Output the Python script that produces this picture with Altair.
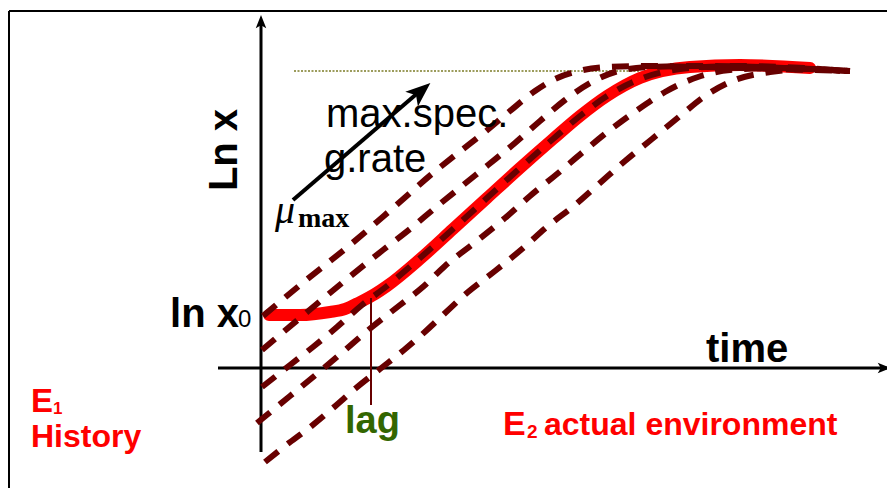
import altair as alt
import pandas as pd

# ---- data (time t, ln x value v; origin at the axes crossing) ----
red_t = [8, 39, 69, 84, 99, 114, 126, 159, 192, 226, 259, 292, 319, 346, 379, 429, 479, 549]
red_v = [53, 53, 56, 59, 66, 74, 82, 109, 139, 170, 200, 229, 252, 272, 290, 301, 303, 300]

l1_t = [2, 44, 89, 132, 172, 197, 224, 249, 274, 294, 314, 347, 389, 439, 589]
l1_v = [52, 87, 123, 160, 195, 215, 236, 257, 277, 289, 296, 301, 302, 301, 297]

l2_t = [1, 39, 81, 122, 149, 174, 201, 227, 254, 279, 304, 329, 354, 389, 439, 589]
l2_v = [18, 50, 85, 118, 139, 160, 182, 203, 225, 247, 268, 285, 296, 301, 302, 297]

l3_t = [1, 29, 52, 76, 101, 126, 159, 192, 226, 259, 292, 319, 346, 379, 429, 479, 589]
l3_v = [-19, 3, 21, 41, 63, 82, 110, 139, 170, 200, 229, 252, 272, 289, 300, 302, 297]

l4_t = [-4, 29, 57, 83, 111, 139, 163, 184, 217, 244, 269, 296, 322, 349, 375, 404, 437, 469, 519, 589]
l4_v = [-55, -28, -5, 17, 41, 63, 82, 102, 128, 150, 172, 194, 216, 238, 257, 276, 291, 298, 300, 297]

l5_t = [4, 24, 48, 72, 95, 119, 143, 166, 182, 207, 234, 261, 287, 314, 339, 364, 391, 419, 444, 474, 509, 549, 589]
l5_v = [-94, -78, -60, -40, -20, -1, 18, 38, 53, 76, 97, 119, 142, 163, 185, 207, 229, 252, 272, 288, 296, 299, 296]

plateau_t = [33, 379]
plateau_v = [297, 297]

lag_t = [110]
lag_v = [70]
lag_v2 = [-37]

mu_arrow_t = [32, 159]
mu_arrow_v = [168, 277]

# ---- text ----
txt_lnx = "Ln x"
txt_lnx0 = "ln x"
txt_sub0 = "0"
txt_time = "time"
txt_spec = ["max.spec.", "g.rate"]
txt_mu = "μ"
txt_mu_sub = "max"
txt_e1 = "E"
txt_e1_sub = "1"
txt_history = "History"
txt_e2 = "E"
txt_e2_sub = "2"
txt_env = "actual environment"
txt_lag = "lag"

XS = alt.Scale(domain=[-261, 626], nice=False, zero=False)
YS = alt.Scale(domain=[-120, 368], nice=False, zero=False)


def X(f="t"):
    return alt.X(f"{f}:Q", scale=XS, axis=None)


def Y(f="v"):
    return alt.Y(f"{f}:Q", scale=YS, axis=None)


DARK = "#680000"
SANS = "Liberation Sans"
SERIF = "Liberation Serif"

layers = []

# frame
frame = pd.DataFrame({"t": [-252], "t2": [626], "v": [357], "v2": [-120]})
layers.append(alt.Chart(frame).mark_rule(color="black", strokeWidth=2).encode(x=X(), x2="t2:Q", y=Y()))
layers.append(alt.Chart(frame).mark_rule(color="black", strokeWidth=2).encode(x=X(), y=Y(), y2="v2:Q"))

# axes
yax = pd.DataFrame({"t": [0], "v": [-84], "v2": [344]})
xax = pd.DataFrame({"t": [-43], "t2": [626], "v": [0]})
layers.append(alt.Chart(yax).mark_rule(color="black", strokeWidth=3).encode(x=X(), y=Y(), y2="v2:Q"))
layers.append(alt.Chart(xax).mark_rule(color="black", strokeWidth=3).encode(x=X(), x2="t2:Q", y=Y()))

ARROW = "M0,-1L0.75,0.9L0,0.45L-0.75,0.9Z"
yhead = pd.DataFrame({"t": [0], "v": [346]})
xhead = pd.DataFrame({"t": [623], "v": [0]})
layers.append(alt.Chart(yhead).mark_point(shape=ARROW, filled=True, size=196, color="black", opacity=1, strokeWidth=0).encode(x=X(), y=Y()))
layers.append(alt.Chart(xhead).mark_point(shape=ARROW, filled=True, size=196, angle=90, color="black", opacity=1, strokeWidth=0).encode(x=X(), y=Y()))

# plateau dotted line
pl = pd.DataFrame({"t": plateau_t, "v": plateau_v})
layers.append(alt.Chart(pl).mark_line(color="#9c9c5c", strokeWidth=2, strokeDash=[2, 1.5]).encode(x=X(), y=Y()))

# red curve
red = pd.DataFrame({"t": red_t, "v": red_v})
layers.append(alt.Chart(red).mark_line(color="#ff0000", strokeWidth=12, strokeCap="round", interpolate="monotone").encode(x=X(), y=Y()))

# dashed curves
rows = []
for name, ts, vs in [("1", l1_t, l1_v), ("2", l2_t, l2_v), ("3", l3_t, l3_v), ("4", l4_t, l4_v), ("5", l5_t, l5_v)]:
    for i, (a, b) in enumerate(zip(ts, vs)):
        rows.append({"line": name, "idx": i, "t": a, "v": b})
dashed = pd.DataFrame(rows)
layers.append(alt.Chart(dashed).mark_line(color=DARK, strokeWidth=6, strokeDash=[17, 12], interpolate="monotone").encode(
    x=X(), y=Y(), detail="line:N", order="idx:Q"))

# lag line
lag = pd.DataFrame({"t": lag_t, "v": lag_v, "v2": lag_v2})
layers.append(alt.Chart(lag).mark_rule(color=DARK, strokeWidth=2).encode(x=X(), y=Y(), y2="v2:Q"))

# mu arrow
mua = pd.DataFrame({"t": mu_arrow_t, "v": mu_arrow_v})
layers.append(alt.Chart(mua).mark_line(color="black", strokeWidth=4).encode(x=X(), y=Y()))
muh = pd.DataFrame({"t": [159.5], "v": [276.5]})
layers.append(alt.Chart(muh).mark_point(shape=ARROW, filled=True, size=676, angle=49.5, color="black", opacity=1, strokeWidth=0).encode(x=X(), y=Y()))


def label(text, t, v, size, color="black", weight="bold", font=SANS, style="normal", align="left", angle=0):
    df = pd.DataFrame({"t": [t], "v": [v], "s": [text]})
    return alt.Chart(df).mark_text(
        font=font, fontSize=size, fontWeight=weight, fontStyle=style, color=color,
        align=align, baseline="alphabetic", angle=angle
    ).encode(x=X(), y=Y(), text="s:N")


layers.append(label(txt_lnx, -24, 218, 40, angle=270, align="center"))
layers.append(label(txt_lnx0, -22, 41, 40, align="right"))
layers.append(label(txt_sub0, -23, 41, 24, weight="normal"))
layers.append(label(txt_time, 445, 6, 40))
layers.append(label(txt_spec[0], 65, 241, 40, weight="normal"))
layers.append(label(txt_spec[1], 63, 196, 40, weight="normal"))
layers.append(label(txt_mu, 14, 145, 40, weight="normal", font=SERIF, style="italic"))
layers.append(label(txt_mu_sub, 37, 141, 28, font=SERIF))
layers.append(label(txt_e1, -230, -44, 33, color="#ff0000"))
layers.append(label(txt_e1_sub, -208, -46, 17, color="#ff0000"))
layers.append(label(txt_history, -230, -79, 32, color="#ff0000"))
layers.append(label(txt_e2, 242, -67, 34, color="#ff0000"))
layers.append(label(txt_e2_sub, 266, -70, 19, color="#ff0000"))
layers.append(label(txt_env, 283, -67, 32, color="#ff0000"))
layers.append(label(txt_lag, 84, -65, 38, color="#336600"))

chart = alt.layer(*layers).properties(
    width=887, height=488, padding=0,
    autosize=alt.AutoSizeParams(type="none"),
    background="white",
).configure_view(stroke=None)

chart.save("out.html", embed_options={"renderer": "svg", "actions": False})
